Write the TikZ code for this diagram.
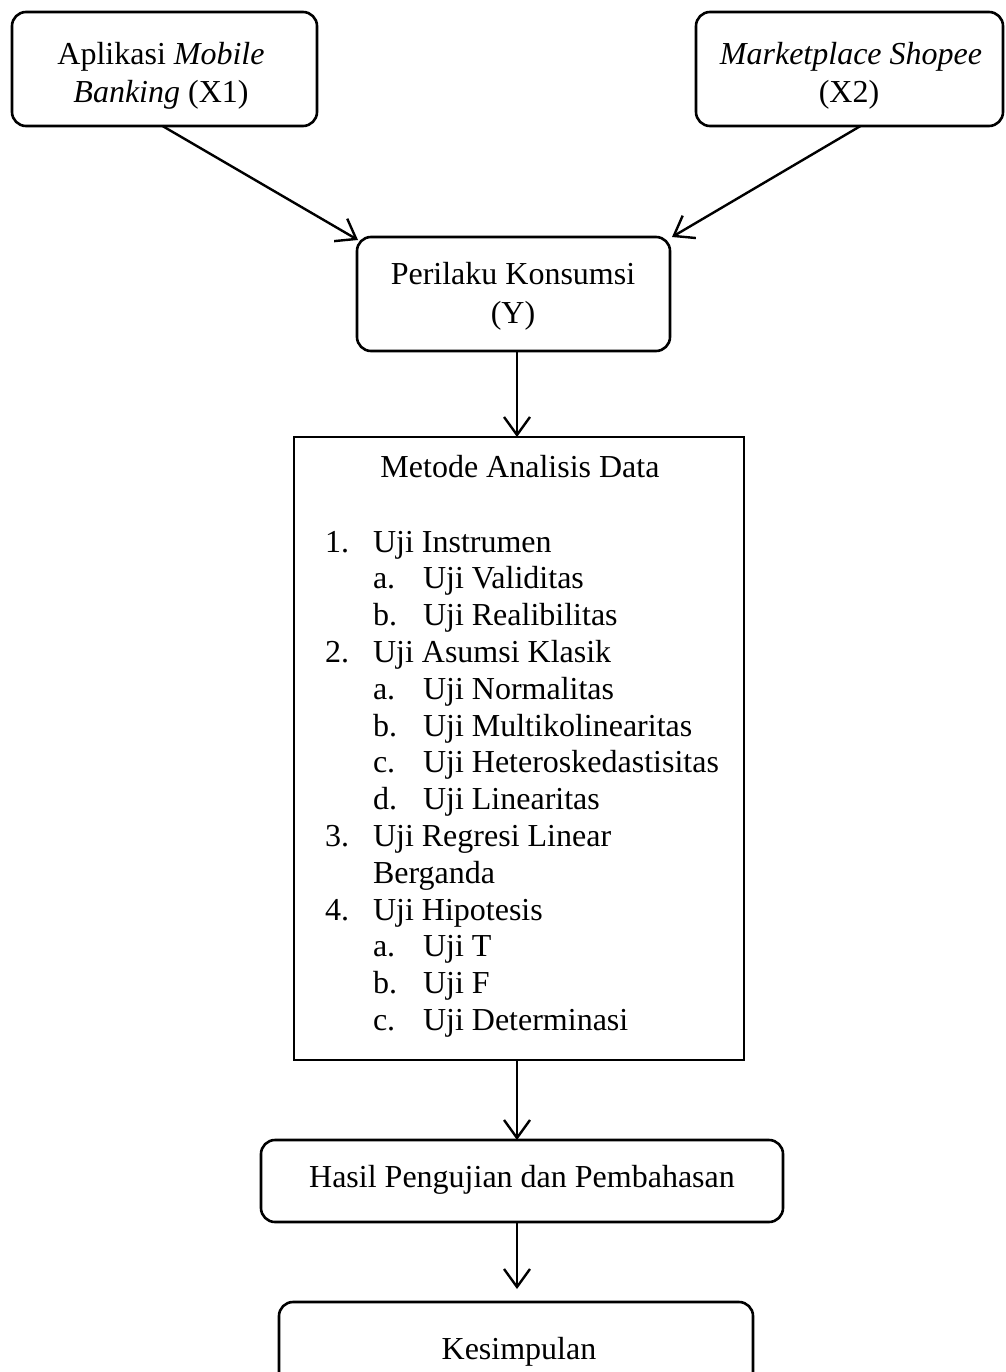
\documentclass[tikz,border=0pt]{standalone}
\usepackage{fontspec}
\setmainfont{Liberation Serif}
\usetikzlibrary{arrows.meta}
\begin{document}
\begin{tikzpicture}[x=1pt,y=-1pt,
  every node/.style={inner sep=0pt,outer sep=0pt},
  rbox/.style={draw,line width=2.6pt,rounded corners=14pt,rectangle,anchor=north west},
  pbox/.style={draw,line width=1.6pt,rectangle,anchor=north west},
  txt/.style={font=\fontsize{32}{37}\selectfont,anchor=base},
  ltxt/.style={font=\fontsize{32}{37}\selectfont,anchor=base west},
  arr/.style={line width=2.4pt,-{Straight Barb[length=18pt,width=26pt,line width=2.4pt]}}]
\useasboundingbox (0,0) rectangle (1005,1372);
% boxes
\node[rbox,minimum width=305pt,minimum height=114pt] (x1) at (12,12) {};
\node[rbox,minimum width=307pt,minimum height=114pt] (x2) at (696,12) {};
\node[rbox,minimum width=313pt,minimum height=114pt] (y) at (357,237) {};
\node[pbox,minimum width=450pt,minimum height=623pt] (metode) at (294,437) {};
\node[rbox,minimum width=522pt,minimum height=82pt] (hasil) at (261,1140) {};
\node[rbox,minimum width=474pt,minimum height=110pt] (kes) at (279,1302) {};
% box texts
\node[txt] (x1a) at (161,65) {Aplikasi \textit{Mobile}};
\node[txt] (x1b) at (161,103) {\textit{Banking} (X1)};
\node[txt] (x2a) at (851,65) {\textit{Marketplace Shopee}};
\node[txt] (x2b) at (849,103) {(X2)};
\node[txt] (ya) at (513,284) {Perilaku Konsumsi};
\node[txt] (yb) at (513,323) {(Y)};
\node[txt] (mt) at (520,477) {Metode Analisis Data};
\node[txt] (ht) at (522,1187) {Hasil Pengujian dan Pembahasan};
\node[txt] (kt) at (519,1359) {Kesimpulan};
% list
\node[ltxt] (n1) at (325,552) {1.};
\node[ltxt] (t1) at (373,552) {Uji Instrumen};
\node[ltxt] (n1a) at (373,588.8) {a.};
\node[ltxt] (t1a) at (423,588.8) {Uji Validitas};
\node[ltxt] (n1b) at (373,625.6) {b.};
\node[ltxt] (t1b) at (423,625.6) {Uji Realibilitas};
\node[ltxt] (n2) at (325,662.4) {2.};
\node[ltxt] (t2) at (373,662.4) {Uji Asumsi Klasik};
\node[ltxt] (n2a) at (373,699.2) {a.};
\node[ltxt] (t2a) at (423,699.2) {Uji Normalitas};
\node[ltxt] (n2b) at (373,736) {b.};
\node[ltxt] (t2b) at (423,736) {Uji Multikolinearitas};
\node[ltxt] (n2c) at (373,772.8) {c.};
\node[ltxt] (t2c) at (423,772.8) {Uji Heteroskedastisitas};
\node[ltxt] (n2d) at (373,809.6) {d.};
\node[ltxt] (t2d) at (423,809.6) {Uji Linearitas};
\node[ltxt] (n3) at (325,846.4) {3.};
\node[ltxt] (t3) at (373,846.4) {Uji Regresi Linear};
\node[ltxt] (t3b) at (373,883.2) {Berganda};
\node[ltxt] (n4) at (325,920) {4.};
\node[ltxt] (t4) at (373,920) {Uji Hipotesis};
\node[ltxt] (n4a) at (373,956.8) {a.};
\node[ltxt] (t4a) at (423,956.8) {Uji T};
\node[ltxt] (n4b) at (373,993.6) {b.};
\node[ltxt] (t4b) at (423,993.6) {Uji F};
\node[ltxt] (n4c) at (373,1030.4) {c.};
\node[ltxt] (t4c) at (423,1030.4) {Uji Determinasi};
% connectors
\draw[arr] ([xshift=-2pt]x1.south) -- ([xshift=1pt,yshift=-3pt]y.north west);
\draw[arr] ([xshift=11pt]x2.south) -- ([xshift=2pt]y.north east);
\draw[arr] ([xshift=3.5pt]y.south) -- ([xshift=3.5pt]y.south |- metode.north);
\draw[arr] ([xshift=-2pt]metode.south) -- ([xshift=-2pt]metode.south |- hasil.north);
\draw[arr] ([xshift=-5pt]hasil.south) -- ([xshift=-5pt,yshift=13pt]hasil.south |- kes.north);
\end{tikzpicture}
\end{document}
